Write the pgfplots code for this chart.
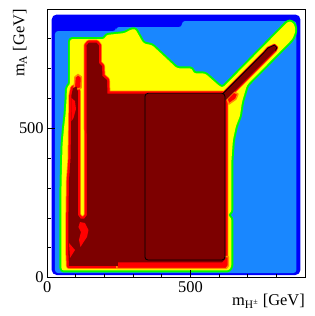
\documentclass[border=0pt]{standalone}
\usepackage{pgfplots}
\pgfplotsset{compat=1.18}
\usepackage{pgfplotstable}
\usepackage{fontspec}
\setmainfont{Liberation Serif}
\definecolor{dblue}{RGB}{0,0,250}
\definecolor{lblue}{RGB}{25,135,255}
\definecolor{cgreen}{RGB}{0,250,0}
\definecolor{cyellow}{RGB}{255,255,0}
\definecolor{corange}{RGB}{255,140,0}
\definecolor{cred}{RGB}{255,0,0}
\definecolor{cmaroon}{RGB}{125,0,0}

\pgfplotstableread{
x y
15.7 8.7
884.0 8.7
884.0 881.4
15.7 881.4
}\darkblue

\pgfplotstableread{
x y
27.2 15.4
870.1 15.4
870.1 859.6
470.5 859.6
470.5 839.5
240.1 839.5
240.1 826.1
27.2 826.1
}\lightblue

\pgfplotstableread{
x y
49.9 23.8
634.5 23.8
643.2 37.2
643.2 199.7
629.2 209.7
643.2 219.8
643.2 394.0
648.4 461.0
658.9 507.9
672.9 541.4
679.9 588.3
690.3 621.8
697.3 645.2
856.1 799.3
866.6 824.4
864.8 842.9
854.4 857.9
840.4 857.9
613.5 636.8
603.1 640.2
550.7 684.4
510.6 684.4
505.4 701.2
453.0 701.2
365.8 779.2
336.1 784.2
306.4 834.5
289.0 829.5
271.5 819.4
205.2 812.7
201.7 799.3
79.6 799.3
79.6 645.2
69.1 638.5
67.4 595.0
63.9 544.7
58.6 501.2
53.4 444.2
49.9 310.2
}\yellowreg

\pgfplotstableread{
x y
76.1 38.9
247.1 38.9
247.1 50.6
610.1 50.6
622.3 62.3
622.3 608.4
613.5 616.7
210.4 616.7
208.7 662.0
193.0 675.4
191.3 708.9
180.8 718.9
180.8 777.5
172.1 787.6
145.9 787.6
137.2 777.5
138.9 209.7
130.2 198.0
116.2 198.0
107.5 209.7
107.5 621.8
102.3 640.2
90.0 635.2
84.8 611.7
83.1 494.5
81.3 394.0
76.1 327.0
74.3 216.4
74.3 75.7
}\maroonmain

\pgfplotstableread{
x y
613.5 616.7
756.6 754.1
770.6 769.2
793.3 779.2
802.0 770.8
796.8 760.8
622.3 593.3
610.0 600.0
}\maroonarm

\pgfplotstableread{
x y
243.6 30.5
625.0 30.5
632.7 40.0
632.7 70.0
243.6 70.0
}\redbottom

\pgfplotstableread{
x y
97.0 672.0
107.5 680.4
119.7 672.0
118.0 635.2
93.5 628.5
}\redcap

\pgfplotstableread{
x y
627.0 598.3
651.9 621.8
665.9 615.1
658.9 598.3
634.5 581.6
}\redarmbase

\pgfplotstableread{
x y
114.5 186.3
131.9 182.9
144.1 159.5
138.9 136.0
124.9 115.9
116.2 102.5
111.0 126.0
118.0 152.8
109.2 169.5
}\redblobA

\pgfplotstableread{
x y
76.1 115.9
97.0 92.5
79.6 65.7
}\redblobB

\pgfplotstableread{
x y
84.8 601.7
97.0 591.6
100.5 564.8
91.8 534.7
84.8 524.6
}\redblobC

\pgfplotstableread{
x y
613.5 616.7
756.6 754.1
770.6 769.2
793.3 779.2
802.0 770.8
796.8 760.8
}\armline

\pgfplotstableread{
x y
341.3 59.0
620.5 59.0
620.5 617.4
341.3 617.4
}\boxline

\begin{document}
\begin{tikzpicture}
\path[use as bounding box] (-47.2bp,-38.4bp) rectangle (267.8bp,277.6bp);
\begin{axis}[
  at={(0,0)}, anchor=south west,
  scale only axis, width=257.8bp, height=268.6bp,
  xmin=0, xmax=900, ymin=0, ymax=900,
  xtick={0,500}, ytick={0,500},
  minor xtick={100,200,300,400,600,700,800},
  minor ytick={100,200,300,400,600,700,800},
  tick align=inside, xtick pos=bottom, ytick pos=left,
  major tick length=8bp, minor tick length=3.5bp,
  every tick/.style={black, line width=0.7pt},
  axis line style={line width=0.8pt},
  axis on top,
  tick label style={font=\fontsize{16.5}{19}\selectfont},
  /pgf/number format/assume math mode=true,
  label style={font=\fontsize{16.5}{19}\selectfont, inner sep=0pt},
  xlabel={m\textsubscript{H\textsuperscript{±}} [GeV]},
  ylabel={m\textsubscript{A} [GeV]},
  xlabel style={at={(axis description cs:1,-0.0614)}, anchor=north east},
  ylabel style={at={(axis description cs:-0.0776,1.0)}, anchor=south east},
]
\addplot[fill=dblue, draw=none, rounded corners=5pt] table {\darkblue} --cycle;
\addplot[fill=lblue, draw=none, rounded corners=3pt] table {\lightblue} --cycle;
\addplot[fill=cgreen, draw=cgreen, line width=4pt, line join=round, rounded corners=2.5pt] table {\yellowreg} --cycle;
\addplot[fill=cyellow, draw=none, rounded corners=2.5pt] table {\yellowreg} --cycle;
\addplot[fill=corange, draw=corange, line width=6pt, line join=round] table {\maroonmain} --cycle;
\addplot[fill=corange, draw=corange, line width=3pt, line join=round] table {\maroonarm} --cycle;
\addplot[fill=cred, draw=cred, line width=4.5pt, line join=round] table {\maroonmain} --cycle;
\addplot[fill=cred, draw=cred, line width=2pt, line join=round] table {\maroonarm} --cycle;
\addplot[fill=cred, draw=corange, line width=1.5pt, line join=round] table {\redbottom} --cycle;
\addplot[fill=cred, draw=corange, line width=1.5pt, line join=round] table {\redcap} --cycle;
\addplot[fill=cred, draw=corange, line width=1.5pt, line join=round] table {\redarmbase} --cycle;
\addplot[fill=cmaroon, draw=none] table {\maroonmain} --cycle;
\addplot[fill=cmaroon, draw=none] table {\maroonarm} --cycle;
\addplot[fill=cred, draw=none] table {\redblobA} --cycle;
\addplot[fill=cred, draw=none] table {\redblobB} --cycle;
\addplot[fill=cred, draw=none] table {\redblobC} --cycle;
\addplot[draw=black, line width=0.8pt, rounded corners=3pt] table {\boxline} --cycle;
\addplot[draw=black, line width=0.8pt, line join=round] table {\armline};
\end{axis}
\end{tikzpicture}
\end{document}
